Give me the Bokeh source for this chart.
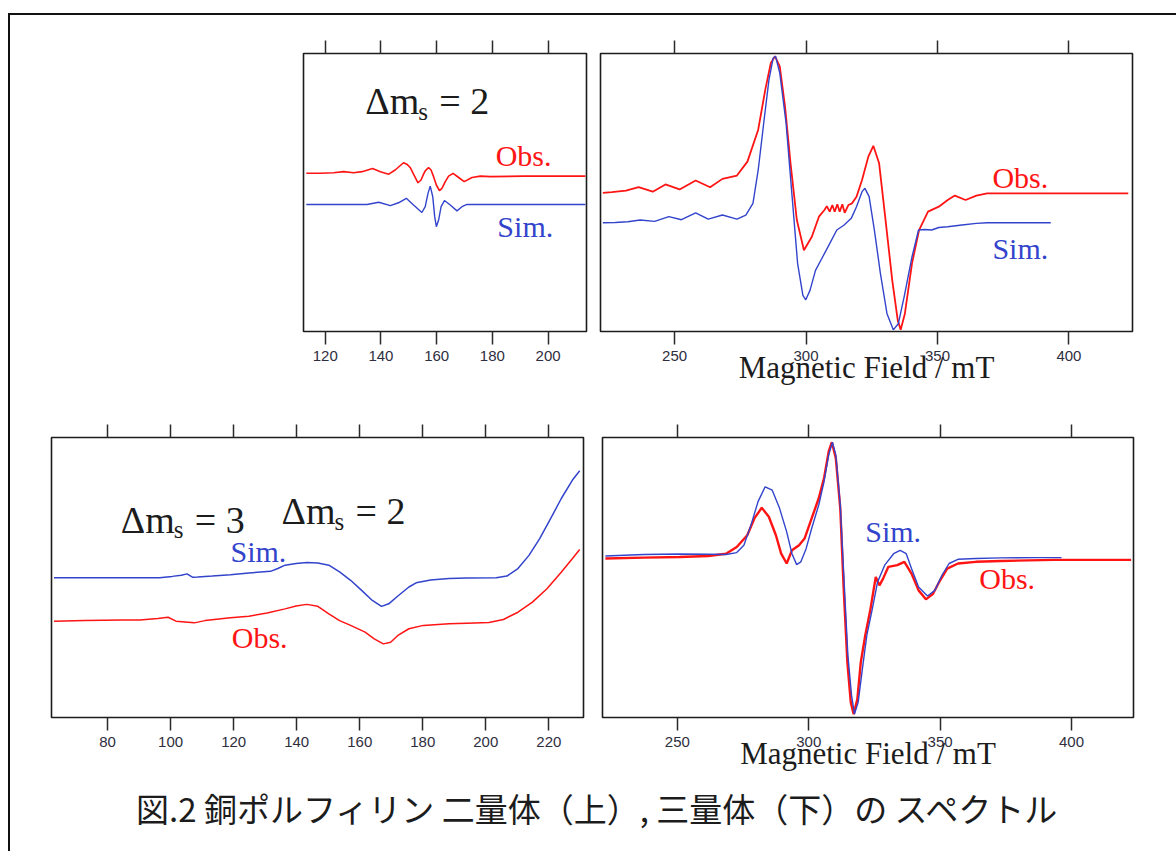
from bokeh.plotting import figure
from bokeh.models import LinearAxis, FixedTicker, Label, Range1d, CustomJSTickFormatter
from bokeh.layouts import row, column
from bokeh.embed import file_html
from bokeh.resources import INLINE

# ---------------- data ----------------
# Panel 1: dimer, Delta ms = 2 region
P1_RANGE = (112.2, 213.8)
P1_TICKS = [120, 140, 160, 180, 200]
P1_OBS_X = [113.2, 118.2, 123.0, 126.6, 130.2, 133.2, 137.0, 139.8, 142.8, 145.1, 148.1, 149.3, 150.5,
            151.7, 153.3, 154.4, 155.3, 155.9, 157.1, 158.0, 158.9, 159.9, 161.0, 161.9, 163.1, 164.3,
            165.9, 167.9, 169.9, 172.7, 175.7, 179.3, 191.3, 213.4]
P1_OBS_Y = [56.9, 56.9, 57.1, 57.5, 57.1, 57.5, 58.6, 57.5, 56.6, 58.1, 60.7, 60.2, 59.0,
            56.6, 53.5, 54.5, 56.6, 57.8, 59.0, 58.1, 55.7, 52.7, 50.7, 51.5, 53.9, 55.9,
            56.9, 55.4, 53.9, 55.4, 55.9, 55.7, 55.9, 55.9]
P1_SIM_X = [113.2, 125.4, 135.0, 139.2, 143.4, 146.3, 149.1, 151.7, 154.7, 155.9, 156.9, 157.7, 158.6,
            159.3, 159.9, 160.7, 161.6, 162.8, 164.9, 167.3, 169.1, 170.9, 179.3, 213.4]
P1_SIM_Y = [45.7, 45.7, 45.7, 46.5, 45.3, 46.3, 47.9, 45.5, 42.8, 44.9, 49.7, 52.3, 48.5,
            41.3, 37.7, 40.1, 44.9, 47.1, 45.5, 43.4, 44.9, 45.7, 45.7, 45.7]

# Panel 2: dimer, allowed region
P2_RANGE = (221.8, 424.2)
P2_TICKS = [250, 300, 350, 400]
P2_OBS_X = [222.7, 226.1, 231.5, 236.3, 241.7, 246.5, 251.9, 258.0, 263.5, 268.2, 273.7, 277.7, 281.8,
            284.5, 286.6, 288.2, 290.0, 292.0, 294.1, 296.5, 299.2, 302.2, 304.9, 307.0, 307.9, 309.0,
            310.0, 310.9, 311.9, 312.8, 313.8, 314.7, 316.1, 317.5, 319.2, 321.3, 323.7, 325.6, 327.8,
            330.1, 332.8, 334.9, 336.0, 337.6, 340.3, 343.0, 346.4, 350.5, 353.9, 356.6, 360.7, 364.8,
            368.9, 374.3, 394.7, 422.6]
P2_OBS_Y = [49.9, 50.1, 50.7, 51.9, 50.3, 52.9, 51.1, 54.3, 51.9, 54.9, 56.1, 61.1, 72.6,
            87.0, 96.6, 99.0, 95.4, 81.0, 60.5, 40.1, 29.2, 34.1, 41.3, 43.7, 45.1, 43.1,
            45.5, 43.1, 45.8, 43.1, 45.8, 42.7, 45.5, 46.1, 48.5, 54.5, 62.9, 66.8, 60.5,
            41.3, 18.4, 4.0, 0.6, 6.4, 24.4, 36.5, 43.1, 44.9, 47.3, 48.9, 47.3, 48.9,
            49.7, 49.7, 49.7, 49.7]
P2_SIM_X = [222.7, 227.4, 232.2, 236.9, 242.4, 247.8, 252.6, 258.0, 262.8, 268.2, 273.7, 277.1, 279.8,
            281.8, 283.9, 285.9, 287.5, 288.4, 290.0, 292.4, 294.7, 296.8, 298.8, 299.9, 301.5, 303.6,
            306.3, 309.0, 311.7, 314.5, 317.2, 319.2, 321.3, 322.4, 324.0, 326.0, 328.3, 330.8, 333.2,
            335.1, 337.3, 340.3, 342.8, 345.1, 347.8, 350.5, 353.9, 359.3, 364.8, 368.9, 381.1, 393.1]
P2_SIM_Y = [39.1, 39.2, 39.5, 40.1, 39.6, 41.3, 40.2, 42.7, 40.4, 41.9, 40.4, 41.9, 46.1,
            58.1, 75.0, 90.6, 98.4, 99.0, 93.0, 75.0, 48.5, 24.4, 13.0, 11.4, 14.8, 22.0,
            26.8, 31.6, 36.5, 38.3, 40.7, 44.9, 50.3, 51.5, 48.5, 36.5, 20.8, 6.4, 0.6,
            2.8, 12.4, 26.8, 36.5, 36.7, 36.5, 37.4, 37.7, 38.3, 38.9, 39.1, 39.1, 39.1]

# Panel 3: trimer, half-field region
P3_RANGE = (62.2, 231.0)
P3_TICKS = [80, 100, 120, 140, 160, 180, 200, 220]
P3_SIM_X = [63.0, 78.6, 96.5, 100.5, 103.4, 105.2, 106.9, 108.6, 113.2, 119.0, 124.8, 131.7, 134.0,
            136.3, 139.8, 143.2, 146.7, 150.2, 153.6, 157.1, 160.6, 164.0, 166.9, 169.2, 172.1, 175.6,
            177.9, 182.5, 188.3, 194.0, 203.3, 206.7, 210.2, 213.7, 217.1, 220.6, 224.0, 227.5, 229.8]
P3_SIM_Y = [49.9, 49.9, 49.9, 50.4, 50.8, 51.3, 50.1, 50.2, 50.5, 51.0, 51.6, 52.2, 53.2,
            54.4, 55.0, 55.4, 55.2, 54.4, 52.0, 49.0, 45.4, 41.8, 39.7, 40.6, 43.4, 46.6,
            48.1, 49.1, 49.6, 49.8, 49.9, 50.5, 53.2, 57.9, 63.9, 71.1, 78.3, 84.8, 88.1]
P3_OBS_X = [63.0, 72.8, 84.4, 90.2, 95.9, 99.2, 101.7, 107.5, 110.9, 119.0, 124.8, 130.6, 136.3,
            139.8, 143.2, 146.7, 150.2, 153.6, 157.1, 161.7, 164.6, 167.5, 169.8, 172.1, 175.6, 180.2,
            188.3, 194.0, 201.0, 205.6, 210.2, 214.8, 219.4, 224.0, 227.5, 229.8]
P3_OBS_Y = [34.4, 34.6, 34.8, 34.8, 35.4, 35.8, 34.4, 33.8, 34.6, 35.6, 36.2, 37.3, 38.8,
            39.8, 40.4, 39.7, 37.0, 34.6, 32.9, 30.5, 28.1, 26.3, 26.9, 29.3, 31.7, 32.9,
            33.5, 33.7, 33.9, 35.0, 37.6, 41.2, 46.0, 52.0, 56.8, 60.0]

# Panel 4: trimer, allowed region
P4_RANGE = (221.5, 423.6)
P4_TICKS = [250, 300, 350, 400]
P4_OBS_X = [222.6, 237.2, 250.8, 261.7, 268.5, 272.6, 276.6, 279.3, 282.1, 284.8, 287.5, 289.5, 291.6,
            293.6, 296.3, 298.4, 301.1, 303.8, 305.8, 307.6, 308.8, 310.3, 312.0, 313.3, 314.7, 316.0,
            317.1, 318.5, 319.8, 321.5, 323.5, 325.5, 326.9, 328.3, 330.3, 333.7, 336.4, 339.1, 341.8,
            344.6, 347.3, 350.0, 352.7, 356.8, 363.6, 373.1, 393.5, 422.7]
P4_OBS_Y = [56.8, 57.1, 57.3, 57.7, 58.5, 60.9, 65.1, 71.1, 74.9, 71.7, 65.1, 58.5, 55.0,
            59.7, 61.5, 63.9, 71.1, 78.3, 85.4, 95.0, 98.3, 92.6, 74.7, 46.0, 19.7, 5.4,
            1.2, 6.6, 19.7, 29.3, 38.8, 50.2, 47.2, 49.6, 53.8, 54.4, 55.6, 51.4, 45.4,
            42.2, 44.2, 49.0, 53.2, 55.0, 55.6, 55.9, 56.3, 56.3]
P4_SIM_X = [222.6, 237.2, 250.8, 261.7, 268.5, 272.6, 275.3, 278.0, 280.7, 283.4, 286.1, 288.9, 291.6,
            293.6, 295.4, 297.0, 299.0, 301.1, 303.8, 305.8, 307.6, 309.0, 310.3, 312.0, 313.6, 314.9,
            316.3, 317.4, 318.8, 320.4, 322.1, 324.2, 326.2, 328.9, 332.3, 334.8, 337.1, 339.1, 341.8,
            345.2, 348.0, 350.7, 353.4, 356.8, 363.6, 373.1, 386.7, 396.2]
P4_SIM_Y = [57.7, 58.2, 58.4, 58.3, 58.2, 58.9, 61.5, 68.7, 77.1, 82.4, 81.2, 74.7, 66.3,
            58.5, 54.6, 55.6, 60.3, 67.5, 75.9, 84.2, 93.8, 98.3, 93.8, 75.9, 46.0, 22.1,
            7.8, 1.2, 5.4, 17.3, 29.3, 38.8, 48.4, 54.4, 58.5, 59.7, 58.5, 53.2, 46.6,
            43.4, 45.4, 50.8, 55.0, 56.5, 56.8, 57.0, 57.1, 57.1]

AXIS_LABEL = "Magnetic Field / mT"
CAPTION = "図.2 銅ポルフィリン 二量体（上）, 三量体（下）の スペクトル"
OBS_TEXT = "Obs."
SIM_TEXT = "Sim."

# ---------------- styling ----------------
RED = "#ff1414"
BLUE = "#3344cc"
INK = "#1c1c1c"
SERIF = "Liberation Serif"


def style_axis(ax, ticks, show_labels):
    ax.ticker = FixedTicker(ticks=ticks)
    ax.axis_line_color = None
    ax.major_tick_in = 0
    ax.major_tick_out = 13
    ax.minor_tick_in = 0
    ax.minor_tick_out = 0
    ax.minor_tick_line_color = None
    ax.major_tick_line_color = "#2a2a2a"
    ax.major_tick_line_width = 1.5
    if show_labels:
        ax.major_label_text_font = "Liberation Sans"
        ax.major_label_text_font_size = "15px"
        ax.major_label_text_color = "#2e2e40"
        ax.major_label_standoff = 6
    else:
        ax.formatter = CustomJSTickFormatter(code="return ''")
        ax.major_label_standoff = 0


def panel(xr, ticks, fw, fh, lb, rb, tb, bb, xlabel=None):
    p = figure(frame_width=fw, frame_height=fh,
               x_range=Range1d(xr[0], xr[1]), y_range=Range1d(0, 100),
               x_axis_location="below", y_axis_location=None,
               output_backend="svg", toolbar_location=None, tools="", title=None,
               min_border_left=lb, min_border_right=rb,
               min_border_top=tb, min_border_bottom=bb)
    p.xgrid.visible = False
    p.ygrid.visible = False
    p.outline_line_color = INK
    p.outline_line_width = 1.6
    p.border_fill_color = "white"
    p.background_fill_color = "white"
    style_axis(p.below[0], ticks, True)
    top = LinearAxis()
    style_axis(top, ticks, False)
    p.add_layout(top, "above")
    if xlabel:
        ax = p.below[0]
        ax.axis_label = xlabel
        ax.axis_label_text_font = SERIF
        ax.axis_label_text_font_style = "normal"
        ax.axis_label_text_font_size = "31px"
        ax.axis_label_text_color = INK
        ax.axis_label_standoff = -14
    return p


def word(p, x, y, text, color, size="30px"):
    p.add_layout(Label(x=x, y=y, y_offset=9, text=text, text_color=color, text_font=SERIF,
                       text_font_size=size, text_baseline="alphabetic", text_align="left"))


def delta_ms(p, x, y, n):
    p.add_layout(Label(x=x, y=y, y_offset=9, text="Δm", text_color=INK, text_font=SERIF,
                       text_font_size="38px", text_baseline="alphabetic"))
    p.add_layout(Label(x=x, y=y, x_offset=53, y_offset=-1, text="s", text_color=INK,
                       text_font=SERIF, text_font_size="25px", text_baseline="alphabetic"))
    p.add_layout(Label(x=x, y=y, x_offset=74, y_offset=9, text="= " + n, text_color=INK,
                       text_font=SERIF, text_font_size="38px", text_baseline="alphabetic"))


# Top row
p1 = panel(P1_RANGE, P1_TICKS, 283, 278, 293, 7, 38, 60)
p1.line(P1_OBS_X, P1_OBS_Y, line_color=RED, line_width=1.6)
p1.line(P1_SIM_X, P1_SIM_Y, line_color=BLUE, line_width=1.4)
delta_ms(p1, 134.4, 79.6, "2")
word(p1, 181.2, 59.9, OBS_TEXT, RED)
word(p1, 181.8, 34.7, SIM_TEXT, BLUE)

p2 = panel(P2_RANGE, P2_TICKS, 532, 278, 7, 28, 38, 60, AXIS_LABEL)
p2.line(P2_OBS_X, P2_OBS_Y, line_color=RED, line_width=1.8)
p2.line(P2_SIM_X, P2_SIM_Y, line_color=BLUE, line_width=1.4)
word(p2, 370.9, 52.1, OBS_TEXT, RED)
word(p2, 370.9, 26.5, SIM_TEXT, BLUE)

# Bottom row
p3 = panel(P3_RANGE, P3_TICKS, 532, 280, 41, 10, 46, 55)
p3.line(P3_OBS_X, P3_OBS_Y, line_color=RED, line_width=1.5)
p3.line(P3_SIM_X, P3_SIM_Y, line_color=BLUE, line_width=1.5)
delta_ms(p3, 84.2, 67.5, "3")
delta_ms(p3, 135.2, 70.5, "2")
word(p3, 119.0, 56.2, SIM_TEXT, BLUE)
word(p3, 119.4, 25.4, OBS_TEXT, RED)

p4 = panel(P4_RANGE, P4_TICKS, 531, 280, 9, 27, 46, 55, AXIS_LABEL)
p4.line(P4_OBS_X, P4_OBS_Y, line_color=RED, line_width=2.4)
p4.line(P4_SIM_X, P4_SIM_Y, line_color=BLUE, line_width=1.4)
word(p4, 321.5, 63.3, SIM_TEXT, BLUE)
word(p4, 364.9, 46.4, OBS_TEXT, RED)

# Caption
cap = figure(width=1166, height=78, x_range=Range1d(0, 1), y_range=Range1d(0, 1),
             x_axis_location=None, y_axis_location=None, output_backend="svg",
             toolbar_location=None, tools="", title=None, min_border=0)
cap.xgrid.visible = False
cap.ygrid.visible = False
cap.outline_line_color = None
cap.add_layout(Label(x=0.504, y=0.56, text=CAPTION, text_font="Noto Sans CJK JP",
                     text_font_size="33px", text_color=INK, text_align="center",
                     text_baseline="middle"))

layout = column(row(p1, p2), row(p3, p4), cap,
                styles={"border-left": "2px solid #111", "border-top": "2px solid #111",
                        "position": "relative", "left": "8px", "top": "13px"})

open("out.html", "w").write(file_html(layout, INLINE))
